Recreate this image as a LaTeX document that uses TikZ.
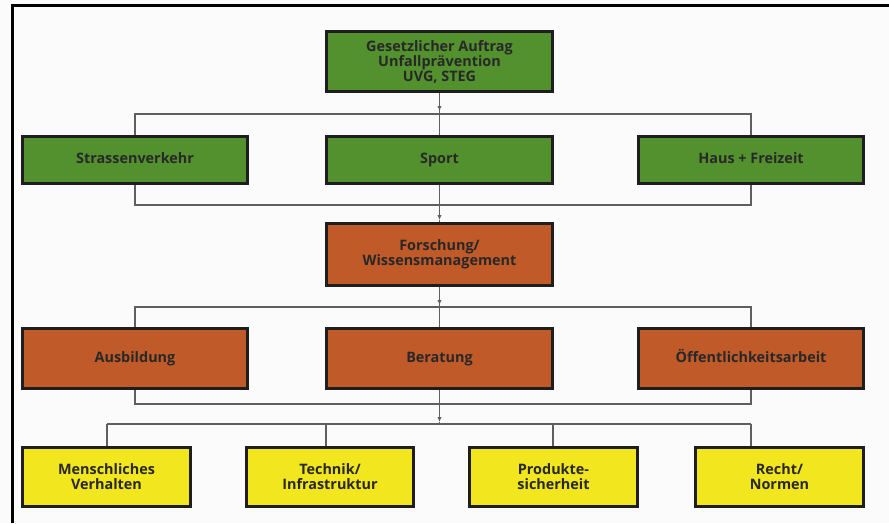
\documentclass[tikz,border=0pt]{standalone}
\usepackage{fontspec}
\setmainfont{Open Sans}
\usetikzlibrary{arrows.meta}
\definecolor{boxgreen}{RGB}{82,145,46}
\definecolor{boxorange}{RGB}{192,90,40}
\definecolor{boxyellow}{RGB}{242,230,30}
\definecolor{edge}{RGB}{30,30,30}
\definecolor{conncol}{RGB}{95,95,95}
\definecolor{txt}{RGB}{40,40,40}
\definecolor{bgcol}{RGB}{251,251,251}
\begin{document}
\begin{tikzpicture}[x=1pt,y=-1pt,
  box/.style={draw=edge, line width=2.6pt, inner sep=0pt, align=center, text=txt,
    font=\bfseries\fontsize{14.4}{15}\selectfont},
  oneline/.style={text height=10.5pt, text depth=3pt},
  gbox/.style={box, fill=boxgreen},
  obox/.style={box, fill=boxorange},
  ybox/.style={box, fill=boxyellow},
  conn/.style={draw=conncol, line width=1.1pt},
  tip/.style={conn, -{Latex[length=5pt,width=4.5pt]}},
  frameline/.style={draw=black, line width=3pt}]
\useasboundingbox (0,0) rectangle (889,523);
\fill[bgcol] (0,0) rectangle (889,523);
\draw[frameline] (12,523) -- (12,5) -- (889,5);

% nodes
\node[gbox, minimum width=226pt, minimum height=60pt] (top) at (439.5,61.5) {Gesetzlicher Auftrag\\Unfallprävention\\UVG, STEG};
\node[gbox, oneline, minimum width=225pt, minimum height=47pt] (strassen) at (135,160) {Strassenverkehr};
\node[gbox, oneline, minimum width=226pt, minimum height=47pt] (sport) at (439.5,160) {Sport};
\node[gbox, oneline, minimum width=225pt, minimum height=47pt] (haus) at (751,160) {Haus + Freizeit};

\node[obox, minimum width=226pt, minimum height=62pt] (forsch) at (439.5,254.5) {Forschung/\\Wissensmanagement};

\node[obox, oneline, minimum width=225pt, minimum height=60pt] (ausb) at (135,358.5) {Ausbildung};
\node[obox, oneline, minimum width=226pt, minimum height=60pt] (berat) at (439.5,358.5) {Beratung};
\node[obox, oneline, minimum width=225pt, minimum height=60pt] (oeff) at (751,358.5) {Öffentlichkeitsarbeit};

\node[ybox, minimum width=168pt, minimum height=59pt] (mensch) at (106.5,477) {Menschliches\\Verhalten};
\node[ybox, minimum width=167pt, minimum height=59pt] (technik) at (330,477) {Technik/\\Infrastruktur};
\node[ybox, minimum width=168pt, minimum height=59pt] (produkt) at (553.5,477) {Produkte-\\sicherheit};
\node[ybox, minimum width=168pt, minimum height=59pt] (recht) at (779.5,477) {Recht/\\Normen};

% coordinates
\coordinate (a1) at (439.5,111);
\coordinate (b1l) at (135,114);
\coordinate (b1r) at (751,114);
\coordinate (a2) at (439.5,220);
\coordinate (b2l) at (135,205);
\coordinate (b2r) at (751,205);
\coordinate (a3) at (439.5,305);
\coordinate (b3l) at (135,307);
\coordinate (b3r) at (751,307);
\coordinate (a4) at (439.5,422);
\coordinate (b4l) at (135,404);
\coordinate (b4r) at (751,404);
\coordinate (c1) at (107,424);
\coordinate (c2) at (326,424);
\coordinate (c3) at (553,424);
\coordinate (c4) at (751,424);

% level 1 -> 2
\draw[conn] (top.south) -- (sport.north);
\draw[tip] (top.south) -- (a1);
\draw[conn] (strassen.north) -- (b1l) -- (b1r) -- (haus.north);
% level 2 -> 3
\draw[conn] (strassen.south) -- (b2l) -- (b2r) -- (haus.south);
\draw[tip] (sport.south) -- (a2);
\draw[conn] (a2) -- (forsch.north);
% level 3 -> 4
\draw[conn] (forsch.south) -- (berat.north);
\draw[tip] (forsch.south) -- (a3);
\draw[conn] (ausb.north) -- (b3l) -- (b3r) -- (oeff.north);
% level 4 -> 5
\draw[conn] (ausb.south) -- (b4l) -- (b4r) -- (oeff.south);
\draw[tip] (berat.south) -- (a4);
\draw[conn] (a4) -- (439.5,424);
\draw[conn] (c1) -- (c4);
\draw[conn] (c1) -- (c1 |- mensch.north);
\draw[conn] (c2) -- (c2 |- technik.north);
\draw[conn] (c3) -- (c3 |- produkt.north);
\draw[conn] (c4) -- (c4 |- recht.north);
\end{tikzpicture}
\end{document}
